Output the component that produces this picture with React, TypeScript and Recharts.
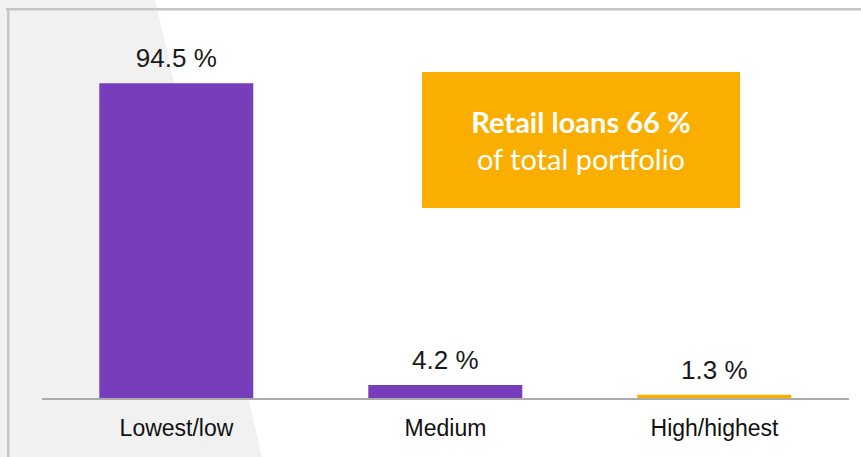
import React from 'react';
import { BarChart, Bar, XAxis, YAxis, Cell, LabelList } from 'recharts';

const categories = ['Lowest/low', 'Medium', 'High/highest'];
const shares = [94.5, 4.2, 1.3];

const PURPLE = '#783dbb';
const ORANGE = '#f9ae00';
const barColors = [PURPLE, PURPLE, ORANGE];

const data = categories.map((name, i) => ({ name, share: shares[i] }));

const W = 861;
const H = 457;

const Backdrop = () => (
  <svg width={W} height={H} style={{ position: 'absolute', left: 0, top: 0 }}>
    <rect x={0} y={0} width={W} height={H} fill="#ffffff" />
    <polygon points={`0,0 155,0 262,${H} 0,${H}`} fill="#f1f1f1" />
    <rect x={6} y={8} width={W - 6} height={2.5} fill="#c6c6c6" />
    <rect x={7} y={8} width={2.5} height={H - 8} fill="#c6c6c6" />
  </svg>
);

const App: React.FC = () => {
  return (
    <div style={{ position: 'absolute', left: 0, top: 0, width: W, height: H, overflow: 'hidden' }}>
      <Backdrop />
      <div style={{ position: 'absolute', left: 0, top: 0 }}>
        <BarChart
          width={W}
          height={H}
          data={data}
          margin={{ top: 65, right: 12, left: 42, bottom: 0 }}
          barCategoryGap="21.3%"
        >
          <XAxis
            dataKey="name"
            height={58}
            tickLine={false}
            tickSize={0}
            tickMargin={21}
            axisLine={{ stroke: '#ababab', strokeWidth: 2 }}
            tick={{ fontSize: 23, fill: '#111111', fontFamily: 'Liberation Sans, Arial, sans-serif' }}
          />
          <YAxis hide domain={[0, 100]} />
          <Bar dataKey="share" isAnimationActive={false}>
            {data.map((d, i) => (
              <Cell key={d.name} fill={barColors[i]} />
            ))}
            <LabelList
              dataKey="share"
              position="top"
              offset={16}
              formatter={(v: any) => `${v} %`}
              style={{ fontSize: 26, fill: '#1a1a1a', fontFamily: 'Liberation Sans, Arial, sans-serif' }}
            />
          </Bar>
        </BarChart>
      </div>
      <div
        style={{
          position: 'absolute',
          left: 422,
          top: 72,
          width: 318,
          height: 136,
          background: ORANGE,
          color: '#ffffff',
          fontFamily: 'Lato, sans-serif',
          fontSize: 29,
          textAlign: 'center',
          display: 'flex',
          flexDirection: 'column',
          justifyContent: 'center',
          lineHeight: '37px',
        }}
      >
        <div style={{ fontWeight: 700 }}>Retail loans 66 %</div>
        <div>of total portfolio</div>
      </div>
    </div>
  );
};

export default App;
